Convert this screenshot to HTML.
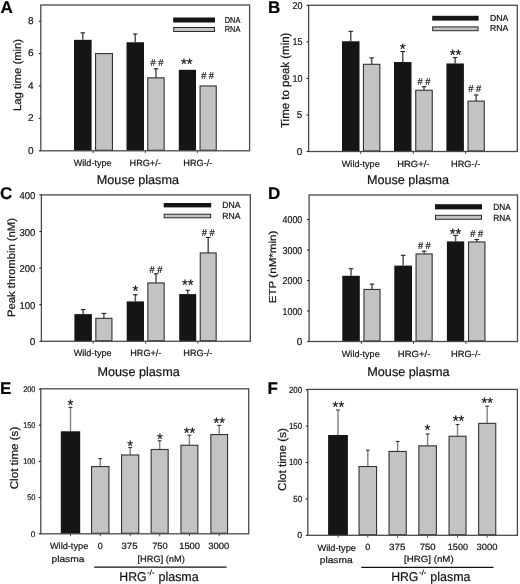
<!DOCTYPE html>
<html><head><meta charset="utf-8"><style>
html,body{margin:0;padding:0;background:#fff;}
svg{display:block;font-family:"Liberation Sans", sans-serif;filter:grayscale(1);text-rendering:geometricPrecision;}
text{stroke:#222;stroke-width:0.22px;}
</style></head><body>
<svg width="520" height="584" viewBox="0 0 520 584">
<rect x="0" y="0" width="520" height="584" fill="#fff"/>
<line x1="82.8" y1="39.83000000000003" x2="82.8" y2="32.84000000000002" stroke="#555" stroke-width="1.5"/>
<line x1="80.5" y1="32.84000000000002" x2="85.1" y2="32.84000000000002" stroke="#222" stroke-width="1.1"/>
<rect x="74.00" y="39.83" width="17.60" height="110.97" fill="#151515"/>
<rect x="95.55" y="53.55" width="16.90" height="96.70" fill="#c3c3c3" stroke="#333" stroke-width="1.1"/>
<line x1="135.25" y1="42.26000000000002" x2="135.25" y2="33.974000000000004" stroke="#555" stroke-width="1.5"/>
<line x1="132.95" y1="33.974000000000004" x2="137.55" y2="33.974000000000004" stroke="#222" stroke-width="1.1"/>
<rect x="126.50" y="42.26" width="17.50" height="108.54" fill="#151515"/>
<line x1="155.95" y1="77.90000000000002" x2="155.95" y2="68.80400000000002" stroke="#555" stroke-width="1.5"/>
<line x1="153.64999999999998" y1="68.80400000000002" x2="158.25" y2="68.80400000000002" stroke="#222" stroke-width="1.1"/>
<rect x="147.75" y="77.85" width="16.40" height="72.40" fill="#c3c3c3" stroke="#333" stroke-width="1.1"/>
<rect x="178.80" y="69.80" width="17.20" height="81.00" fill="#151515"/>
<rect x="200.05" y="85.95" width="16.20" height="64.30" fill="#c3c3c3" stroke="#333" stroke-width="1.1"/>
<rect x="40.8" y="5" width="208.8" height="145.8" fill="none" stroke="#4a4a4a" stroke-width="1.3"/>
<line x1="38.8" y1="150.8" x2="40.8" y2="150.8" stroke="#222" stroke-width="1.1"/>
<text x="33.5" y="153.60" font-size="10" text-anchor="end" fill="#111" >0</text>
<line x1="38.8" y1="118.4" x2="40.8" y2="118.4" stroke="#222" stroke-width="1.1"/>
<text x="33.5" y="121.20" font-size="10" text-anchor="end" fill="#111" >2</text>
<line x1="38.8" y1="86.00000000000001" x2="40.8" y2="86.00000000000001" stroke="#222" stroke-width="1.1"/>
<text x="33.5" y="88.80" font-size="10" text-anchor="end" fill="#111" >4</text>
<line x1="38.8" y1="53.60000000000002" x2="40.8" y2="53.60000000000002" stroke="#222" stroke-width="1.1"/>
<text x="33.5" y="56.40" font-size="10" text-anchor="end" fill="#111" >6</text>
<line x1="38.8" y1="21.200000000000017" x2="40.8" y2="21.200000000000017" stroke="#222" stroke-width="1.1"/>
<text x="33.5" y="24.00" font-size="10" text-anchor="end" fill="#111" >8</text>
<line x1="93.1" y1="150.8" x2="93.1" y2="153.20000000000002" stroke="#4a4a4a" stroke-width="1"/>
<line x1="145.3" y1="150.8" x2="145.3" y2="153.20000000000002" stroke="#4a4a4a" stroke-width="1"/>
<line x1="197.4" y1="150.8" x2="197.4" y2="153.20000000000002" stroke="#4a4a4a" stroke-width="1"/>
<text x="157" y="66.05" font-size="10" text-anchor="middle" textLength="12.8" lengthAdjust="spacingAndGlyphs" fill="#111" ># #</text>
<text x="186.8" y="68.95" font-size="15" text-anchor="middle" textLength="11.6" lengthAdjust="spacingAndGlyphs" fill="#111" >**</text>
<text x="207.6" y="79.15" font-size="10" text-anchor="middle" textLength="12.8" lengthAdjust="spacingAndGlyphs" fill="#111" ># #</text>
<rect x="173.20" y="17.50" width="41.80" height="5.00" fill="#151515"/>
<rect x="173.70" y="27.50" width="40.80" height="4.00" fill="#c3c3c3" stroke="#2a2a2a" stroke-width="1"/>
<text x="224.8" y="22.8" font-size="8.6" text-anchor="start" textLength="15.5" lengthAdjust="spacingAndGlyphs" fill="#111" >DNA</text>
<text x="224.8" y="32.2" font-size="8.6" text-anchor="start" textLength="15.5" lengthAdjust="spacingAndGlyphs" fill="#111" >RNA</text>
<text x="92.65" y="165.8" font-size="9" text-anchor="middle" textLength="37.6" lengthAdjust="spacingAndGlyphs" fill="#111" >Wild-type</text>
<text x="145.15" y="165.8" font-size="9" text-anchor="middle" textLength="31.2" lengthAdjust="spacingAndGlyphs" fill="#111" >HRG+/-</text>
<text x="197.8" y="165.8" font-size="9" text-anchor="middle" textLength="29.1" lengthAdjust="spacingAndGlyphs" fill="#111" >HRG-/-</text>
<text x="0" y="0" font-size="10.8" text-anchor="middle" textLength="72" lengthAdjust="spacingAndGlyphs" fill="#111" transform="translate(21.4,74.95) rotate(-90)">Lag time (min)</text>
<text x="0.4" y="13.2" font-size="17" text-anchor="start" font-weight="bold" fill="#000" >A</text>
<line x1="350.75" y1="41.26520000000001" x2="350.75" y2="31.3312" stroke="#555" stroke-width="1.5"/>
<line x1="348.45" y1="31.3312" x2="353.05" y2="31.3312" stroke="#222" stroke-width="1.1"/>
<rect x="342.00" y="41.27" width="17.50" height="110.23" fill="#151515"/>
<line x1="371.65" y1="64.3648" x2="371.65" y2="57.8665" stroke="#555" stroke-width="1.5"/>
<line x1="369.34999999999997" y1="57.8665" x2="373.95" y2="57.8665" stroke="#222" stroke-width="1.1"/>
<rect x="363.45" y="64.31" width="16.40" height="86.64" fill="#c3c3c3" stroke="#333" stroke-width="1.1"/>
<line x1="402.75" y1="62.0256" x2="402.75" y2="51.5068" stroke="#555" stroke-width="1.5"/>
<line x1="400.45" y1="51.5068" x2="405.05" y2="51.5068" stroke="#222" stroke-width="1.1"/>
<rect x="394.00" y="62.03" width="17.50" height="89.47" fill="#151515"/>
<line x1="424.0" y1="90.31530000000001" x2="424.0" y2="86.6679" stroke="#555" stroke-width="1.5"/>
<line x1="421.7" y1="86.6679" x2="426.3" y2="86.6679" stroke="#222" stroke-width="1.1"/>
<rect x="415.75" y="90.27" width="16.50" height="60.68" fill="#c3c3c3" stroke="#333" stroke-width="1.1"/>
<line x1="455.15" y1="63.487600000000015" x2="455.15" y2="57.5741" stroke="#555" stroke-width="1.5"/>
<line x1="452.84999999999997" y1="57.5741" x2="457.45" y2="57.5741" stroke="#222" stroke-width="1.1"/>
<rect x="446.40" y="63.49" width="17.50" height="88.01" fill="#151515"/>
<line x1="476.15" y1="101.1341" x2="476.15" y2="94.92819999999999" stroke="#555" stroke-width="1.5"/>
<line x1="473.84999999999997" y1="94.92819999999999" x2="478.45" y2="94.92819999999999" stroke="#222" stroke-width="1.1"/>
<rect x="468.05" y="101.08" width="16.20" height="49.87" fill="#c3c3c3" stroke="#333" stroke-width="1.1"/>
<rect x="308.6" y="5.3" width="208.69999999999993" height="146.2" fill="none" stroke="#4a4a4a" stroke-width="1.3"/>
<line x1="306.6" y1="151.5" x2="308.6" y2="151.5" stroke="#222" stroke-width="1.1"/>
<text x="302.4" y="154.70" font-size="10" text-anchor="end" fill="#111" >0</text>
<line x1="306.6" y1="114.95" x2="308.6" y2="114.95" stroke="#222" stroke-width="1.1"/>
<text x="302.4" y="118.15" font-size="10" text-anchor="end" fill="#111" >5</text>
<line x1="306.6" y1="78.4" x2="308.6" y2="78.4" stroke="#222" stroke-width="1.1"/>
<text x="302.4" y="81.60" font-size="10" text-anchor="end" textLength="10.0" lengthAdjust="spacingAndGlyphs" fill="#111" >10</text>
<line x1="306.6" y1="41.85000000000001" x2="308.6" y2="41.85000000000001" stroke="#222" stroke-width="1.1"/>
<text x="302.4" y="45.05" font-size="10" text-anchor="end" textLength="10.0" lengthAdjust="spacingAndGlyphs" fill="#111" >15</text>
<line x1="306.6" y1="5.300000000000011" x2="308.6" y2="5.300000000000011" stroke="#222" stroke-width="1.1"/>
<text x="302.4" y="8.50" font-size="10" text-anchor="end" textLength="10.0" lengthAdjust="spacingAndGlyphs" fill="#111" >20</text>
<line x1="360.7" y1="151.5" x2="360.7" y2="153.9" stroke="#4a4a4a" stroke-width="1"/>
<line x1="413.3" y1="151.5" x2="413.3" y2="153.9" stroke="#4a4a4a" stroke-width="1"/>
<line x1="465.6" y1="151.5" x2="465.6" y2="153.9" stroke="#4a4a4a" stroke-width="1"/>
<text x="402.7" y="54.3" font-size="15" text-anchor="middle" fill="#111" >*</text>
<text x="424" y="85.0" font-size="10" text-anchor="middle" textLength="12.8" lengthAdjust="spacingAndGlyphs" fill="#111" ># #</text>
<text x="455.5" y="60.1" font-size="15" text-anchor="middle" textLength="11.6" lengthAdjust="spacingAndGlyphs" fill="#111" >**</text>
<text x="474.7" y="91.75" font-size="10" text-anchor="middle" textLength="12.8" lengthAdjust="spacingAndGlyphs" fill="#111" ># #</text>
<rect x="432.20" y="15.80" width="46.40" height="4.80" fill="#151515"/>
<rect x="432.70" y="26.90" width="45.40" height="3.80" fill="#c3c3c3" stroke="#2a2a2a" stroke-width="1"/>
<text x="490" y="21.4" font-size="8.6" text-anchor="start" textLength="18.3" lengthAdjust="spacingAndGlyphs" fill="#111" >DNA</text>
<text x="490" y="31.4" font-size="8.6" text-anchor="start" textLength="18.3" lengthAdjust="spacingAndGlyphs" fill="#111" >RNA</text>
<text x="360.75" y="166.6" font-size="9" text-anchor="middle" textLength="38" lengthAdjust="spacingAndGlyphs" fill="#111" >Wild-type</text>
<text x="413.35" y="166.6" font-size="9" text-anchor="middle" textLength="32.2" lengthAdjust="spacingAndGlyphs" fill="#111" >HRG+/-</text>
<text x="465.65" y="166.6" font-size="9" text-anchor="middle" textLength="29.4" lengthAdjust="spacingAndGlyphs" fill="#111" >HRG-/-</text>
<text x="0" y="0" font-size="11.5" text-anchor="middle" textLength="95.4" lengthAdjust="spacingAndGlyphs" fill="#111" transform="translate(288.5,80.3) rotate(-90)">Time to peak (min)</text>
<text x="268.1" y="13.2" font-size="17" text-anchor="start" font-weight="bold" fill="#000" >B</text>
<line x1="83.15" y1="314.1062" x2="83.15" y2="309.6116" stroke="#555" stroke-width="1.5"/>
<line x1="80.85000000000001" y1="309.6116" x2="85.45" y2="309.6116" stroke="#222" stroke-width="1.1"/>
<rect x="74.40" y="314.11" width="17.50" height="27.19" fill="#151515"/>
<line x1="103.9" y1="318.3884" x2="103.9" y2="313.418" stroke="#555" stroke-width="1.5"/>
<line x1="101.60000000000001" y1="313.418" x2="106.2" y2="313.418" stroke="#222" stroke-width="1.1"/>
<rect x="95.85" y="318.34" width="16.10" height="22.41" fill="#c3c3c3" stroke="#333" stroke-width="1.1"/>
<line x1="135.35" y1="301.406" x2="135.35" y2="294.752" stroke="#555" stroke-width="1.5"/>
<line x1="133.04999999999998" y1="294.752" x2="137.65" y2="294.752" stroke="#222" stroke-width="1.1"/>
<rect x="126.70" y="301.41" width="17.30" height="39.89" fill="#151515"/>
<line x1="156.0" y1="282.9962" x2="156.0" y2="273.8168" stroke="#555" stroke-width="1.5"/>
<line x1="153.7" y1="273.8168" x2="158.3" y2="273.8168" stroke="#222" stroke-width="1.1"/>
<rect x="147.85" y="282.95" width="16.30" height="57.80" fill="#c3c3c3" stroke="#333" stroke-width="1.1"/>
<line x1="187.7" y1="294.086" x2="187.7" y2="290.2868" stroke="#555" stroke-width="1.5"/>
<line x1="185.39999999999998" y1="290.2868" x2="190.0" y2="290.2868" stroke="#222" stroke-width="1.1"/>
<rect x="179.20" y="294.09" width="17.00" height="47.21" fill="#151515"/>
<line x1="208.2" y1="252.98420000000002" x2="208.2" y2="237.39980000000003" stroke="#555" stroke-width="1.5"/>
<line x1="205.89999999999998" y1="237.39980000000003" x2="210.5" y2="237.39980000000003" stroke="#222" stroke-width="1.1"/>
<rect x="200.25" y="252.93" width="15.90" height="87.82" fill="#c3c3c3" stroke="#333" stroke-width="1.1"/>
<rect x="41.4" y="194.9" width="208.9" height="146.4" fill="none" stroke="#4a4a4a" stroke-width="1.3"/>
<line x1="39.4" y1="341.3" x2="41.4" y2="341.3" stroke="#222" stroke-width="1.1"/>
<text x="35.4" y="345.30" font-size="10" text-anchor="end" fill="#111" >0</text>
<line x1="39.4" y1="304.7" x2="41.4" y2="304.7" stroke="#222" stroke-width="1.1"/>
<text x="35.4" y="308.70" font-size="10" text-anchor="end" textLength="15.9" lengthAdjust="spacingAndGlyphs" fill="#111" >100</text>
<line x1="39.4" y1="268.1" x2="41.4" y2="268.1" stroke="#222" stroke-width="1.1"/>
<text x="35.4" y="272.10" font-size="10" text-anchor="end" textLength="15.9" lengthAdjust="spacingAndGlyphs" fill="#111" >200</text>
<line x1="39.4" y1="231.5" x2="41.4" y2="231.5" stroke="#222" stroke-width="1.1"/>
<text x="35.4" y="235.50" font-size="10" text-anchor="end" textLength="15.9" lengthAdjust="spacingAndGlyphs" fill="#111" >300</text>
<line x1="39.4" y1="194.9" x2="41.4" y2="194.9" stroke="#222" stroke-width="1.1"/>
<text x="35.4" y="198.90" font-size="10" text-anchor="end" textLength="15.9" lengthAdjust="spacingAndGlyphs" fill="#111" >400</text>
<line x1="93.1" y1="341.3" x2="93.1" y2="343.7" stroke="#4a4a4a" stroke-width="1"/>
<line x1="145.6" y1="341.3" x2="145.6" y2="343.7" stroke="#4a4a4a" stroke-width="1"/>
<line x1="197.8" y1="341.3" x2="197.8" y2="343.7" stroke="#4a4a4a" stroke-width="1"/>
<text x="135.3" y="296.2" font-size="15" text-anchor="middle" fill="#111" >*</text>
<text x="156" y="272.65" font-size="10" text-anchor="middle" textLength="12.8" lengthAdjust="spacingAndGlyphs" fill="#111" ># #</text>
<text x="187.7" y="289.6" font-size="15" text-anchor="middle" textLength="11.6" lengthAdjust="spacingAndGlyphs" fill="#111" >**</text>
<text x="208.2" y="235.7" font-size="10" text-anchor="middle" textLength="12.8" lengthAdjust="spacingAndGlyphs" fill="#111" ># #</text>
<rect x="163.70" y="203.00" width="47.50" height="4.40" fill="#151515"/>
<rect x="164.20" y="214.20" width="46.50" height="3.60" fill="#c3c3c3" stroke="#2a2a2a" stroke-width="1"/>
<text x="222.2" y="208.4" font-size="8.8" text-anchor="start" textLength="18.2" lengthAdjust="spacingAndGlyphs" fill="#111" >DNA</text>
<text x="222.2" y="218.9" font-size="8.8" text-anchor="start" textLength="18.2" lengthAdjust="spacingAndGlyphs" fill="#111" >RNA</text>
<text x="92.7" y="355.6" font-size="9" text-anchor="middle" textLength="38" lengthAdjust="spacingAndGlyphs" fill="#111" >Wild-type</text>
<text x="145.8" y="355.6" font-size="9" text-anchor="middle" textLength="31.1" lengthAdjust="spacingAndGlyphs" fill="#111" >HRG+/-</text>
<text x="197.8" y="355.6" font-size="9" text-anchor="middle" textLength="29.1" lengthAdjust="spacingAndGlyphs" fill="#111" >HRG-/-</text>
<text x="0" y="0" font-size="10.8" text-anchor="middle" textLength="99" lengthAdjust="spacingAndGlyphs" fill="#111" transform="translate(14.5,267.5) rotate(-90)">Peak thrombin (nM)</text>
<text x="0" y="199.1" font-size="17" text-anchor="start" font-weight="bold" fill="#000" >C</text>
<line x1="351.05" y1="275.803" x2="351.05" y2="268.6915" stroke="#555" stroke-width="1.5"/>
<line x1="348.75" y1="268.6915" x2="353.35" y2="268.6915" stroke="#222" stroke-width="1.1"/>
<rect x="342.30" y="275.80" width="17.50" height="65.70" fill="#151515"/>
<line x1="372.0" y1="289.4975" x2="372.0" y2="284.094" stroke="#555" stroke-width="1.5"/>
<line x1="369.7" y1="284.094" x2="374.3" y2="284.094" stroke="#222" stroke-width="1.1"/>
<rect x="363.95" y="289.45" width="16.10" height="51.50" fill="#c3c3c3" stroke="#333" stroke-width="1.1"/>
<line x1="403.15" y1="265.5855" x2="403.15" y2="255.30200000000002" stroke="#555" stroke-width="1.5"/>
<line x1="400.84999999999997" y1="255.30200000000002" x2="405.45" y2="255.30200000000002" stroke="#222" stroke-width="1.1"/>
<rect x="394.30" y="265.59" width="17.70" height="75.91" fill="#151515"/>
<line x1="424.1" y1="253.9955" x2="424.1" y2="251.21500000000003" stroke="#555" stroke-width="1.5"/>
<line x1="421.8" y1="251.21500000000003" x2="426.40000000000003" y2="251.21500000000003" stroke="#222" stroke-width="1.1"/>
<rect x="416.05" y="253.95" width="16.10" height="87.00" fill="#c3c3c3" stroke="#333" stroke-width="1.1"/>
<line x1="455.54999999999995" y1="241.399" x2="455.54999999999995" y2="235.3855" stroke="#555" stroke-width="1.5"/>
<line x1="453.24999999999994" y1="235.3855" x2="457.84999999999997" y2="235.3855" stroke="#222" stroke-width="1.1"/>
<rect x="446.90" y="241.40" width="17.30" height="100.10" fill="#151515"/>
<line x1="476.75" y1="242.00900000000001" x2="476.75" y2="239.50300000000001" stroke="#555" stroke-width="1.5"/>
<line x1="474.45" y1="239.50300000000001" x2="479.05" y2="239.50300000000001" stroke="#222" stroke-width="1.1"/>
<rect x="468.55" y="241.96" width="16.40" height="98.99" fill="#c3c3c3" stroke="#333" stroke-width="1.1"/>
<rect x="309.1" y="195" width="208.39999999999998" height="146.5" fill="none" stroke="#4a4a4a" stroke-width="1.3"/>
<line x1="307.1" y1="341.5" x2="309.1" y2="341.5" stroke="#222" stroke-width="1.1"/>
<text x="302.3" y="345.00" font-size="10" text-anchor="end" fill="#111" >0</text>
<line x1="307.1" y1="311.0" x2="309.1" y2="311.0" stroke="#222" stroke-width="1.1"/>
<text x="302.3" y="314.50" font-size="10" text-anchor="end" textLength="19.7" lengthAdjust="spacingAndGlyphs" fill="#111" >1000</text>
<line x1="307.1" y1="280.5" x2="309.1" y2="280.5" stroke="#222" stroke-width="1.1"/>
<text x="302.3" y="284.00" font-size="10" text-anchor="end" textLength="19.7" lengthAdjust="spacingAndGlyphs" fill="#111" >2000</text>
<line x1="307.1" y1="250.0" x2="309.1" y2="250.0" stroke="#222" stroke-width="1.1"/>
<text x="302.3" y="253.50" font-size="10" text-anchor="end" textLength="19.7" lengthAdjust="spacingAndGlyphs" fill="#111" >3000</text>
<line x1="307.1" y1="219.5" x2="309.1" y2="219.5" stroke="#222" stroke-width="1.1"/>
<text x="302.3" y="223.00" font-size="10" text-anchor="end" textLength="19.7" lengthAdjust="spacingAndGlyphs" fill="#111" >4000</text>
<line x1="361.4" y1="341.5" x2="361.4" y2="343.9" stroke="#4a4a4a" stroke-width="1"/>
<line x1="413.5" y1="341.5" x2="413.5" y2="343.9" stroke="#4a4a4a" stroke-width="1"/>
<line x1="465.8" y1="341.5" x2="465.8" y2="343.9" stroke="#4a4a4a" stroke-width="1"/>
<text x="424.3" y="249.4" font-size="10" text-anchor="middle" textLength="12.8" lengthAdjust="spacingAndGlyphs" fill="#111" ># #</text>
<text x="455.5" y="238.65" font-size="15" text-anchor="middle" textLength="11.6" lengthAdjust="spacingAndGlyphs" fill="#111" >**</text>
<text x="476.7" y="237.25" font-size="10" text-anchor="middle" textLength="12.8" lengthAdjust="spacingAndGlyphs" fill="#111" ># #</text>
<rect x="435.00" y="204.20" width="47.00" height="5.20" fill="#151515"/>
<rect x="435.50" y="215.30" width="46.00" height="4.00" fill="#c3c3c3" stroke="#2a2a2a" stroke-width="1"/>
<text x="493.3" y="210.2" font-size="8.8" text-anchor="start" textLength="17.6" lengthAdjust="spacingAndGlyphs" fill="#111" >DNA</text>
<text x="493.3" y="220.5" font-size="8.8" text-anchor="start" textLength="17.6" lengthAdjust="spacingAndGlyphs" fill="#111" >RNA</text>
<text x="360.75" y="357.4" font-size="9" text-anchor="middle" textLength="38" lengthAdjust="spacingAndGlyphs" fill="#111" >Wild-type</text>
<text x="414.15" y="357.4" font-size="9" text-anchor="middle" textLength="32.6" lengthAdjust="spacingAndGlyphs" fill="#111" >HRG+/-</text>
<text x="465.85" y="357.4" font-size="9" text-anchor="middle" textLength="29.6" lengthAdjust="spacingAndGlyphs" fill="#111" >HRG-/-</text>
<text x="0" y="0" font-size="10" text-anchor="middle" textLength="72.6" lengthAdjust="spacingAndGlyphs" fill="#111" transform="translate(275.7,266.9) rotate(-90)">ETP (nM*min)</text>
<text x="268" y="198.6" font-size="17" text-anchor="start" font-weight="bold" fill="#000" >D</text>
<line x1="70.5" y1="431.28159999999997" x2="70.5" y2="407.4104" stroke="#888" stroke-width="1.5"/>
<line x1="68.6" y1="407.4104" x2="72.4" y2="407.4104" stroke="#333" stroke-width="1.1"/>
<rect x="60.80" y="431.28" width="19.40" height="102.52" fill="#151515"/>
<line x1="100.25" y1="466.6128" x2="100.25" y2="458.5972" stroke="#888" stroke-width="1.5"/>
<line x1="98.35" y1="458.5972" x2="102.15" y2="458.5972" stroke="#333" stroke-width="1.1"/>
<rect x="91.55" y="466.56" width="17.40" height="66.69" fill="#c3c3c3" stroke="#333" stroke-width="1.1"/>
<line x1="130.15" y1="455.02879999999993" x2="130.15" y2="447.5924" stroke="#888" stroke-width="1.5"/>
<line x1="128.25" y1="447.5924" x2="132.05" y2="447.5924" stroke="#333" stroke-width="1.1"/>
<rect x="121.55" y="454.98" width="17.20" height="78.27" fill="#c3c3c3" stroke="#333" stroke-width="1.1"/>
<line x1="159.64999999999998" y1="449.52639999999997" x2="159.64999999999998" y2="440.78679999999997" stroke="#888" stroke-width="1.5"/>
<line x1="157.74999999999997" y1="440.78679999999997" x2="161.54999999999998" y2="440.78679999999997" stroke="#333" stroke-width="1.1"/>
<rect x="151.15" y="449.48" width="17.00" height="83.77" fill="#c3c3c3" stroke="#333" stroke-width="1.1"/>
<line x1="189.4" y1="445.32719999999995" x2="189.4" y2="435.212" stroke="#888" stroke-width="1.5"/>
<line x1="187.5" y1="435.212" x2="191.3" y2="435.212" stroke="#333" stroke-width="1.1"/>
<rect x="180.95" y="445.28" width="16.90" height="87.97" fill="#c3c3c3" stroke="#333" stroke-width="1.1"/>
<line x1="219.2" y1="434.61199999999997" x2="219.2" y2="425.3656" stroke="#888" stroke-width="1.5"/>
<line x1="217.29999999999998" y1="425.3656" x2="221.1" y2="425.3656" stroke="#333" stroke-width="1.1"/>
<rect x="210.85" y="434.56" width="16.70" height="98.69" fill="#c3c3c3" stroke="#333" stroke-width="1.1"/>
<rect x="40.8" y="388.8" width="207.89999999999998" height="144.99999999999994" fill="none" stroke="#4a4a4a" stroke-width="1.3"/>
<line x1="38.8" y1="533.8" x2="40.8" y2="533.8" stroke="#222" stroke-width="1.1"/>
<text x="35.4" y="536.67" font-size="8.2" text-anchor="end" fill="#111" >0</text>
<line x1="38.8" y1="497.59999999999997" x2="40.8" y2="497.59999999999997" stroke="#222" stroke-width="1.1"/>
<text x="35.4" y="500.47" font-size="8.2" text-anchor="end" textLength="8.25" lengthAdjust="spacingAndGlyphs" fill="#111" >50</text>
<line x1="38.8" y1="461.4" x2="40.8" y2="461.4" stroke="#222" stroke-width="1.1"/>
<text x="35.4" y="464.27" font-size="8.2" text-anchor="end" textLength="12.23" lengthAdjust="spacingAndGlyphs" fill="#111" >100</text>
<line x1="38.8" y1="425.19999999999993" x2="40.8" y2="425.19999999999993" stroke="#222" stroke-width="1.1"/>
<text x="35.4" y="428.07" font-size="8.2" text-anchor="end" textLength="12.23" lengthAdjust="spacingAndGlyphs" fill="#111" >150</text>
<line x1="38.8" y1="389.0" x2="40.8" y2="389.0" stroke="#222" stroke-width="1.1"/>
<text x="35.4" y="391.87" font-size="8.2" text-anchor="end" textLength="12.23" lengthAdjust="spacingAndGlyphs" fill="#111" >200</text>
<line x1="70.5" y1="533.8" x2="70.5" y2="536.1999999999999" stroke="#4a4a4a" stroke-width="1"/>
<line x1="100.3" y1="533.8" x2="100.3" y2="536.1999999999999" stroke="#4a4a4a" stroke-width="1"/>
<line x1="130.2" y1="533.8" x2="130.2" y2="536.1999999999999" stroke="#4a4a4a" stroke-width="1"/>
<line x1="159.7" y1="533.8" x2="159.7" y2="536.1999999999999" stroke="#4a4a4a" stroke-width="1"/>
<line x1="189.4" y1="533.8" x2="189.4" y2="536.1999999999999" stroke="#4a4a4a" stroke-width="1"/>
<line x1="219.2" y1="533.8" x2="219.2" y2="536.1999999999999" stroke="#4a4a4a" stroke-width="1"/>
<text x="70.4" y="410.15" font-size="15" text-anchor="middle" fill="#111" >*</text>
<text x="130.2" y="450.8" font-size="15" text-anchor="middle" fill="#111" >*</text>
<text x="160" y="443.8" font-size="15" text-anchor="middle" fill="#111" >*</text>
<text x="189.5" y="438.25" font-size="15" text-anchor="middle" textLength="11.6" lengthAdjust="spacingAndGlyphs" fill="#111" >**</text>
<text x="219.3" y="428.15" font-size="15" text-anchor="middle" textLength="11.6" lengthAdjust="spacingAndGlyphs" fill="#111" >**</text>
<text x="69.1" y="549.3" font-size="9" text-anchor="middle" textLength="38.4" lengthAdjust="spacingAndGlyphs" fill="#111" >Wild-type</text>
<text x="67.9" y="562" font-size="9" text-anchor="middle" textLength="32.8" lengthAdjust="spacingAndGlyphs" fill="#111" >plasma</text>
<text x="100.3" y="549.3" font-size="9" text-anchor="middle" fill="#111" >0</text>
<text x="129.5" y="549.3" font-size="9" text-anchor="middle" textLength="16" lengthAdjust="spacingAndGlyphs" fill="#111" >375</text>
<text x="159.95" y="549.3" font-size="9" text-anchor="middle" textLength="15.6" lengthAdjust="spacingAndGlyphs" fill="#111" >750</text>
<text x="189.6" y="549.3" font-size="9" text-anchor="middle" textLength="20.8" lengthAdjust="spacingAndGlyphs" fill="#111" >1500</text>
<text x="218.85" y="549.3" font-size="9" text-anchor="middle" textLength="21.1" lengthAdjust="spacingAndGlyphs" fill="#111" >3000</text>
<text x="161.15" y="561.8" font-size="9" text-anchor="middle" textLength="47.2" lengthAdjust="spacingAndGlyphs" fill="#111" >[HRG] (nM)</text>
<text x="0" y="0" font-size="11.2" text-anchor="middle" textLength="62.5" lengthAdjust="spacingAndGlyphs" fill="#111" transform="translate(18.0,458) rotate(-90)">Clot time (s)</text>
<text x="0" y="393.9" font-size="17" text-anchor="start" font-weight="bold" fill="#000" >E</text>
<line x1="94.2" y1="567.2" x2="226.5" y2="567.2" stroke="#111" stroke-width="1.2"/>
<text x="119.3" y="580.8" font-size="12.8" fill="#111" textLength="27.2" lengthAdjust="spacingAndGlyphs">HRG</text>
<text x="147.3" y="575.3" font-size="7.6" fill="#111">-/-</text>
<text x="158.5" y="580.8" font-size="12.8" fill="#111" textLength="40.2" lengthAdjust="spacingAndGlyphs">plasma</text>
<line x1="338.0" y1="434.98159999999996" x2="338.0" y2="410.0288" stroke="#888" stroke-width="1.5"/>
<line x1="336.1" y1="410.0288" x2="339.9" y2="410.0288" stroke="#333" stroke-width="1.1"/>
<rect x="328.10" y="434.98" width="19.80" height="100.32" fill="#151515"/>
<line x1="367.8" y1="466.57679999999993" x2="367.8" y2="450.21439999999996" stroke="#888" stroke-width="1.5"/>
<line x1="365.90000000000003" y1="450.21439999999996" x2="369.7" y2="450.21439999999996" stroke="#333" stroke-width="1.1"/>
<rect x="359.05" y="466.53" width="17.50" height="68.22" fill="#c3c3c3" stroke="#333" stroke-width="1.1"/>
<line x1="397.65" y1="451.50719999999995" x2="397.65" y2="441.4056" stroke="#888" stroke-width="1.5"/>
<line x1="395.75" y1="441.4056" x2="399.54999999999995" y2="441.4056" stroke="#333" stroke-width="1.1"/>
<rect x="389.05" y="451.46" width="17.20" height="83.29" fill="#c3c3c3" stroke="#333" stroke-width="1.1"/>
<line x1="427.6" y1="445.9016" x2="427.6" y2="433.97999999999996" stroke="#888" stroke-width="1.5"/>
<line x1="425.70000000000005" y1="433.97999999999996" x2="429.5" y2="433.97999999999996" stroke="#333" stroke-width="1.1"/>
<rect x="418.85" y="445.85" width="17.50" height="88.90" fill="#c3c3c3" stroke="#333" stroke-width="1.1"/>
<line x1="457.55" y1="436.292" x2="457.55" y2="424.51599999999996" stroke="#888" stroke-width="1.5"/>
<line x1="455.65000000000003" y1="424.51599999999996" x2="459.45" y2="424.51599999999996" stroke="#333" stroke-width="1.1"/>
<rect x="449.05" y="436.24" width="17.00" height="98.51" fill="#c3c3c3" stroke="#333" stroke-width="1.1"/>
<line x1="487.20000000000005" y1="423.40639999999996" x2="487.20000000000005" y2="406.1704" stroke="#888" stroke-width="1.5"/>
<line x1="485.30000000000007" y1="406.1704" x2="489.1" y2="406.1704" stroke="#333" stroke-width="1.1"/>
<rect x="478.65" y="423.36" width="17.10" height="111.39" fill="#c3c3c3" stroke="#333" stroke-width="1.1"/>
<rect x="307.8" y="389.4" width="209.59999999999997" height="145.89999999999998" fill="none" stroke="#4a4a4a" stroke-width="1.3"/>
<line x1="305.8" y1="535.3" x2="307.8" y2="535.3" stroke="#222" stroke-width="1.1"/>
<text x="302.1" y="538.28" font-size="8.8" text-anchor="end" fill="#111" >0</text>
<line x1="305.8" y1="498.9" x2="307.8" y2="498.9" stroke="#222" stroke-width="1.1"/>
<text x="302.1" y="501.88" font-size="8.8" text-anchor="end" textLength="8.84" lengthAdjust="spacingAndGlyphs" fill="#111" >50</text>
<line x1="305.8" y1="462.49999999999994" x2="307.8" y2="462.49999999999994" stroke="#222" stroke-width="1.1"/>
<text x="302.1" y="465.48" font-size="8.8" text-anchor="end" textLength="13.1" lengthAdjust="spacingAndGlyphs" fill="#111" >100</text>
<line x1="305.8" y1="426.09999999999997" x2="307.8" y2="426.09999999999997" stroke="#222" stroke-width="1.1"/>
<text x="302.1" y="429.08" font-size="8.8" text-anchor="end" textLength="13.1" lengthAdjust="spacingAndGlyphs" fill="#111" >150</text>
<line x1="305.8" y1="389.69999999999993" x2="307.8" y2="389.69999999999993" stroke="#222" stroke-width="1.1"/>
<text x="302.1" y="392.68" font-size="8.8" text-anchor="end" textLength="13.1" lengthAdjust="spacingAndGlyphs" fill="#111" >200</text>
<line x1="338" y1="535.3" x2="338" y2="537.6999999999999" stroke="#4a4a4a" stroke-width="1"/>
<line x1="367.8" y1="535.3" x2="367.8" y2="537.6999999999999" stroke="#4a4a4a" stroke-width="1"/>
<line x1="397.6" y1="535.3" x2="397.6" y2="537.6999999999999" stroke="#4a4a4a" stroke-width="1"/>
<line x1="427.6" y1="535.3" x2="427.6" y2="537.6999999999999" stroke="#4a4a4a" stroke-width="1"/>
<line x1="457.5" y1="535.3" x2="457.5" y2="537.6999999999999" stroke="#4a4a4a" stroke-width="1"/>
<line x1="487.2" y1="535.3" x2="487.2" y2="537.6999999999999" stroke="#4a4a4a" stroke-width="1"/>
<text x="338.4" y="412.25" font-size="15" text-anchor="middle" textLength="11.6" lengthAdjust="spacingAndGlyphs" fill="#111" >**</text>
<text x="427.5" y="434.5" font-size="15" text-anchor="middle" fill="#111" >*</text>
<text x="458.6" y="425.65" font-size="15" text-anchor="middle" textLength="11.6" lengthAdjust="spacingAndGlyphs" fill="#111" >**</text>
<text x="487.3" y="407.6" font-size="15" text-anchor="middle" textLength="11.6" lengthAdjust="spacingAndGlyphs" fill="#111" >**</text>
<text x="336.7" y="550.5" font-size="9" text-anchor="middle" textLength="38.4" lengthAdjust="spacingAndGlyphs" fill="#111" >Wild-type</text>
<text x="336.15" y="562.7" font-size="9" text-anchor="middle" textLength="32.8" lengthAdjust="spacingAndGlyphs" fill="#111" >plasma</text>
<text x="367.7" y="550.1" font-size="9" text-anchor="middle" fill="#111" >0</text>
<text x="397.25" y="550.1" font-size="9" text-anchor="middle" textLength="16.5" lengthAdjust="spacingAndGlyphs" fill="#111" >375</text>
<text x="427.7" y="550.1" font-size="9" text-anchor="middle" textLength="15.9" lengthAdjust="spacingAndGlyphs" fill="#111" >750</text>
<text x="457.95" y="550.1" font-size="9" text-anchor="middle" textLength="20.3" lengthAdjust="spacingAndGlyphs" fill="#111" >1500</text>
<text x="486.9" y="550.1" font-size="9" text-anchor="middle" textLength="21" lengthAdjust="spacingAndGlyphs" fill="#111" >3000</text>
<text x="428.85" y="561.6" font-size="9" text-anchor="middle" textLength="49.8" lengthAdjust="spacingAndGlyphs" fill="#111" >[HRG] (nM)</text>
<text x="0" y="0" font-size="11.2" text-anchor="middle" textLength="63" lengthAdjust="spacingAndGlyphs" fill="#111" transform="translate(286.0,459.55) rotate(-90)">Clot time (s)</text>
<text x="267.6" y="394.1" font-size="17" text-anchor="start" font-weight="bold" fill="#000" >F</text>
<line x1="361.2" y1="567.4" x2="493.5" y2="567.4" stroke="#111" stroke-width="1.2"/>
<text x="391.2" y="580.8" font-size="12.8" fill="#111" textLength="27.2" lengthAdjust="spacingAndGlyphs">HRG</text>
<text x="419.2" y="575.3" font-size="7.6" fill="#111">-/-</text>
<text x="430.3" y="580.8" font-size="12.8" fill="#111" textLength="40.2" lengthAdjust="spacingAndGlyphs">plasma</text>
<text x="137.9" y="183.8" font-size="12.6" text-anchor="middle" textLength="82.2" lengthAdjust="spacingAndGlyphs" fill="#111" >Mouse plasma</text>
<text x="408" y="183.9" font-size="12.6" text-anchor="middle" textLength="82.2" lengthAdjust="spacingAndGlyphs" fill="#111" >Mouse plasma</text>
<text x="138.6" y="375.5" font-size="12.6" text-anchor="middle" textLength="82.2" lengthAdjust="spacingAndGlyphs" fill="#111" >Mouse plasma</text>
<text x="408.4" y="375.7" font-size="12.6" text-anchor="middle" textLength="82.2" lengthAdjust="spacingAndGlyphs" fill="#111" >Mouse plasma</text>
</svg>
</body></html>
